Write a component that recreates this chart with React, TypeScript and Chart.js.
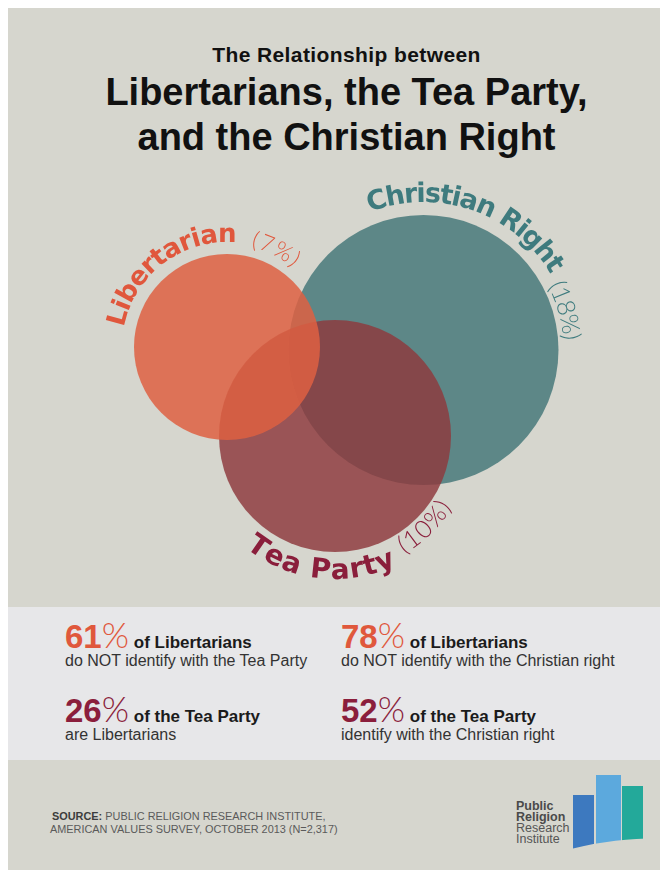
import React, { useEffect, useRef } from 'react';
import { Chart, registerables } from 'chart.js';

Chart.register(...registerables);

// ---- Venn data (scale units) ----
const GROUPS = ['Christian Right', 'Tea Party', 'Libertarian'];
const SHARES = [18, 10, 7];
const CENTER_X = [41.55, 32.7, 21.9];
const CENTER_Y = [25.0, 16.4, 25.3];
const RADII = [13.5, 11.6, 9.3];

// ---- Stats ----
const STAT_VALUES = [61, 78, 26, 52];
const STAT_HEADS = ['of Libertarians', 'of Libertarians', 'of the Tea Party', 'of the Tea Party'];
const STAT_LINES = [
  'do NOT identify with the Tea Party',
  'do NOT identify with the Christian right',
  'are Libertarians',
  'identify with the Christian right',
];

// ---- Styles ----
const BG = '#d6d6ce';
const BAND = '#e7e7e9';
const FILLS = ['rgba(93,135,135,1)', 'rgba(142,58,61,0.83)', 'rgba(222,96,66,0.85)'];
const TEXT_COLORS = ['#3e7b7e', '#8a1e3b', '#e0573c'];
const STAT_COLORS = ['#e0583c', '#e0583c', '#8b1e3c', '#8b1e3c'];
const SANS = '"Liberation Sans", Arial, sans-serif';
const ARC_FONT = '"DejaVu Sans", "Liberation Sans", sans-serif';

// arc label layout per group: [offset px, startDeg, endDeg, fontPx]
const NAME_ARCS = [
  [13, -111, -31, 27],
  [27, 128.8, 64.4, 28],
  [12, -169, -85, 26],
];
const SHARE_ARCS = [
  [5, -27, -4, 25],
  [21, 60, 31, 25],
  [10, -77, -50, 23],
];

function drawArcText(
  ctx: CanvasRenderingContext2D,
  text: string,
  cx: number,
  cy: number,
  R: number,
  d0: number,
  d1: number,
  font: string,
  color: string
) {
  ctx.save();
  ctx.font = font;
  ctx.fillStyle = color;
  ctx.textAlign = 'center';
  ctx.textBaseline = 'alphabetic';
  const chars = Array.from(text);
  const widths = chars.map((c) => ctx.measureText(c).width);
  const natural = widths.reduce((a, b) => a + b, 0);
  const a0 = (d0 * Math.PI) / 180;
  const a1 = (d1 * Math.PI) / 180;
  const dir = a1 > a0 ? 1 : -1;
  const total = Math.abs(a1 - a0) * R;
  const extra = (total - natural) / chars.length;
  let s = 0;
  chars.forEach((c, i) => {
    const w = widths[i] + extra;
    const ang = a0 + (dir * (s + w / 2)) / R;
    ctx.save();
    ctx.translate(cx + R * Math.cos(ang), cy + R * Math.sin(ang));
    ctx.rotate(dir > 0 ? ang + Math.PI / 2 : ang - Math.PI / 2);
    ctx.fillText(c, 0, 0);
    ctx.restore();
    s += w;
  });
  ctx.restore();
}

const arcLabelPlugin = {
  id: 'arcLabels',
  afterDatasetsDraw(chart: any) {
    const meta = chart.getDatasetMeta(0);
    const xs = chart.scales.x;
    const unit = Math.abs(xs.getPixelForValue(1) - xs.getPixelForValue(0));
    const ctx = chart.ctx as CanvasRenderingContext2D;
    GROUPS.forEach((name, i) => {
      const el = meta.data[i];
      if (!el) return;
      const r = RADII[i] * unit;
      const [off, s0, s1, fs] = NAME_ARCS[i];
      drawArcText(ctx, name, el.x, el.y, r + off, s0, s1, `bold ${fs}px ${ARC_FONT}`, TEXT_COLORS[i]);
      const [o2, t0, t1, fs2] = SHARE_ARCS[i];
      drawArcText(
        ctx,
        `(${SHARES[i]}%)`,
        el.x,
        el.y,
        r + o2,
        t0,
        t1,
        `300 ${fs2}px Lato, ${SANS}`,
        TEXT_COLORS[i]
      );
    });
  },
};

function VennChart() {
  const ref = useRef<HTMLCanvasElement | null>(null);
  useEffect(() => {
    if (!ref.current) return;
    const radiusPx = (c: any) => {
      const xs = c.chart.scales?.x;
      if (!xs) return 0;
      return Math.abs(xs.getPixelForValue(RADII[c.dataIndex]) - xs.getPixelForValue(0));
    };
    const chart = new Chart(ref.current, {
      type: 'scatter',
      data: {
        datasets: [
          {
            label: 'Venn',
            data: CENTER_X.map((x, i) => ({ x, y: CENTER_Y[i] })),
            backgroundColor: FILLS,
            pointBackgroundColor: FILLS,
            pointBorderWidth: 0,
            pointHoverBorderWidth: 0,
            pointRadius: radiusPx,
            pointHoverRadius: radiusPx,
            pointStyle: 'circle',
            clip: false,
          } as any,
        ],
      },
      options: {
        animation: false,
        responsive: false,
        maintainAspectRatio: false,
        events: [],
        layout: { padding: 0 },
        scales: {
          x: { type: 'linear', min: 0, max: 66, display: false },
          y: { type: 'linear', min: 0, max: 43, display: false },
        },
        plugins: {
          legend: { display: false },
          tooltip: { enabled: false },
        },
      },
      plugins: [arcLabelPlugin],
    });
    return () => chart.destroy();
  }, []);
  return (
    <canvas
      ref={ref}
      width={660}
      height={430}
      style={{ position: 'absolute', left: 0, top: 162, width: 660, height: 430 }}
    />
  );
}

const ASC = 0.905;
const DESC = 0.212;
function Txt(props: {
  x: number;
  baseline: number;
  fs: number;
  lh: number;
  width?: number;
  style?: React.CSSProperties;
  children: React.ReactNode;
}) {
  const { x, baseline, fs, lh, width, style, children } = props;
  const top = baseline - (lh - (ASC + DESC) * fs) / 2 - ASC * fs;
  return (
    <div
      style={{
        position: 'absolute',
        left: x,
        top,
        width,
        fontSize: fs,
        lineHeight: `${lh}px`,
        whiteSpace: 'nowrap',
        ...style,
      }}
    >
      {children}
    </div>
  );
}

function Stat({ i, x, baseline }: { i: number; x: number; baseline: number }) {
  return (
    <>
      <Txt x={x} baseline={baseline} fs={33} lh={33} style={{ color: STAT_COLORS[i] }}>
        <span style={{ fontWeight: 700 }}>{STAT_VALUES[i]}</span>
        <span style={{ fontWeight: 300, fontFamily: 'Lato, ' + SANS, fontSize: 35 }}>%</span>
        <span style={{ fontSize: 17, lineHeight: '17px', fontWeight: 700, color: '#1b1b1b' }}>
          {' '}
          {STAT_HEADS[i]}
        </span>
      </Txt>
      <Txt x={x} baseline={baseline + 20.5} fs={16} lh={18} style={{ color: '#333' }}>
        {STAT_LINES[i]}
      </Txt>
    </>
  );
}

export default function App() {
  return (
    <div
      style={{
        position: 'relative',
        width: 660,
        height: 862,
        overflow: 'hidden',
        background: BG,
        fontFamily: SANS,
        color: '#111',
      }}
    >
      <Txt x={0} width={677} baseline={54.7} fs={21} lh={24} style={{ textAlign: 'center', fontWeight: 700, letterSpacing: 0.4 }}>
        The Relationship between
      </Txt>
      <Txt x={0} width={677} baseline={97} fs={38} lh={44} style={{ textAlign: 'center', fontWeight: 700 }}>
        Libertarians, the Tea Party,
      </Txt>
      <Txt x={0} width={677} baseline={142} fs={38} lh={44} style={{ textAlign: 'center', fontWeight: 700 }}>
        and the Christian Right
      </Txt>

      <VennChart />

      <div style={{ position: 'absolute', left: 0, top: 599, width: 660, height: 153, background: BAND }} />
      <Stat i={0} x={57} baseline={638} />
      <Stat i={1} x={333} baseline={638} />
      <Stat i={2} x={57} baseline={712} />
      <Stat i={3} x={333} baseline={712} />

      <Txt x={44} baseline={812} fs={10.9} lh={13} style={{ color: '#5a5a5a' }}>
        <span style={{ fontWeight: 700, color: '#3c3c3c' }}>SOURCE:</span> PUBLIC RELIGION RESEARCH INSTITUTE,
      </Txt>
      <Txt x={42} baseline={825} fs={10.9} lh={13} style={{ color: '#5a5a5a' }}>
        AMERICAN VALUES SURVEY, OCTOBER 2013 (N=2,317)
      </Txt>

      <Txt x={508} baseline={802} fs={12.5} lh={12} style={{ color: '#4a4a4a', fontWeight: 700 }}>Public</Txt>
      <Txt x={508} baseline={813} fs={12.5} lh={12} style={{ color: '#4a4a4a', fontWeight: 700 }}>Religion</Txt>
      <Txt x={508} baseline={824} fs={12.5} lh={12} style={{ color: '#555' }}>Research</Txt>
      <Txt x={508} baseline={835} fs={12.5} lh={12} style={{ color: '#555' }}>Institute</Txt>

      <svg
        width={90}
        height={90}
        viewBox="0 0 90 90"
        style={{ position: 'absolute', left: 560, top: 760 }}
      >
        <defs>
          <clipPath id="prriWave">
            <path d="M0,0 L90,0 L90,70 C60,71 35,73 5,80.5 L0,82 Z" />
          </clipPath>
        </defs>
        <g clipPath="url(#prriWave)">
          <rect x={5} y={27} width={21} height={60} fill="#3d79bf" />
          <rect x={28} y={7} width={25} height={80} fill="#5ca9dd" />
          <rect x={54} y={18} width={21} height={70} fill="#23a99a" />
        </g>
      </svg>
    </div>
  );
}
